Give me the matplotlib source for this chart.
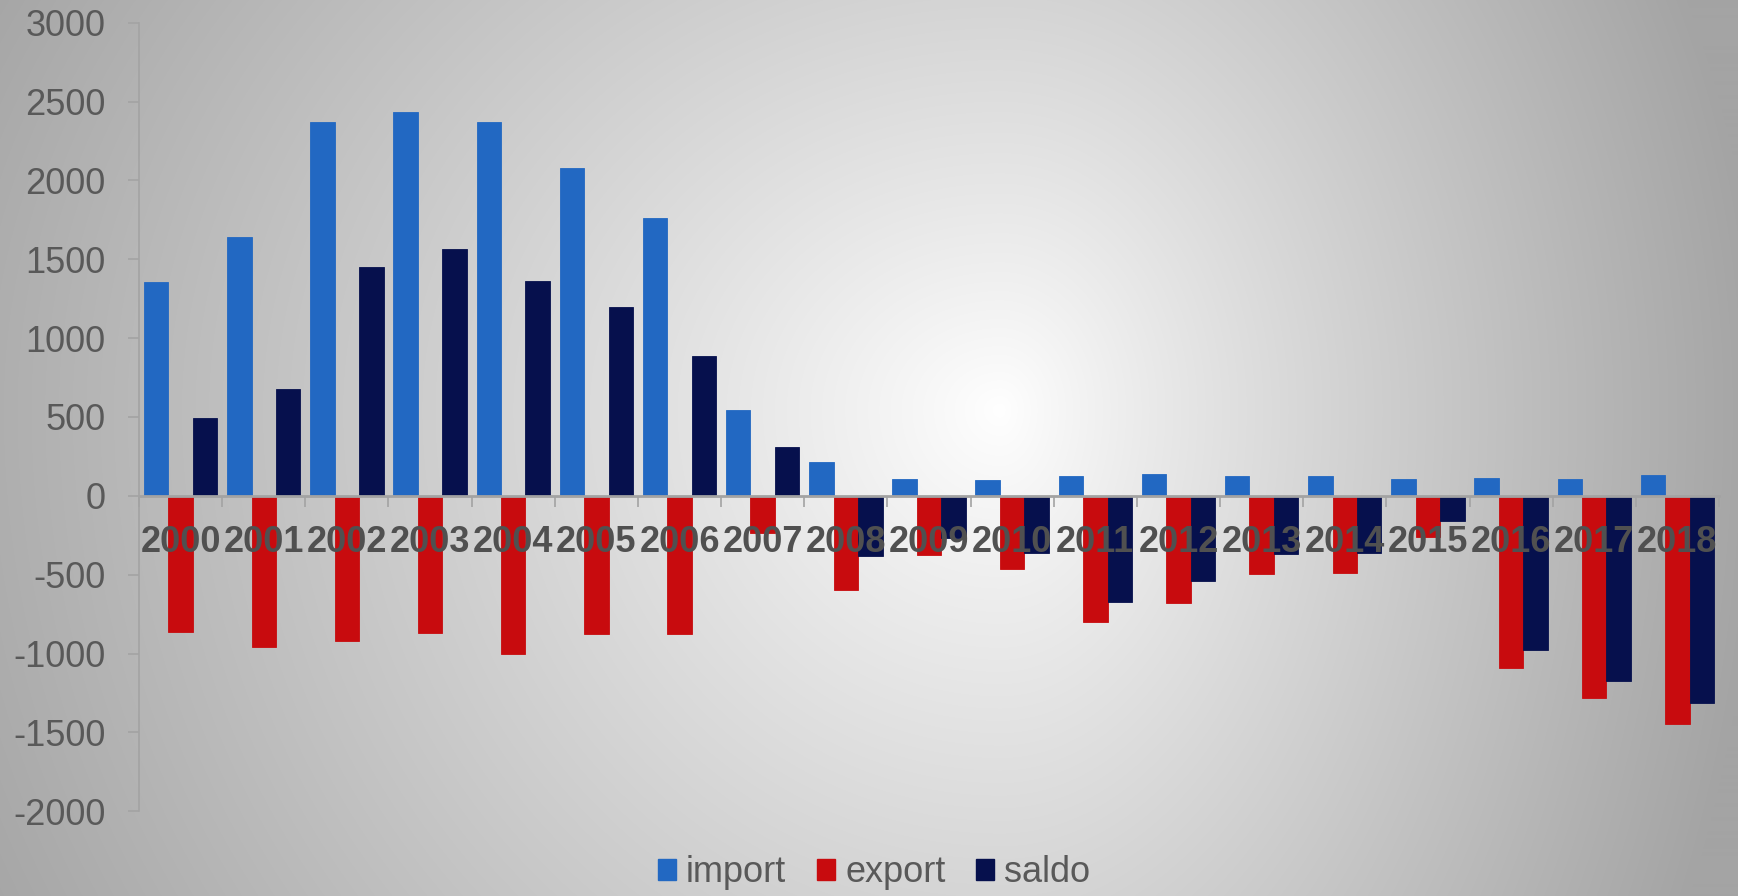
import numpy as np
import matplotlib
matplotlib.use("Agg")
import matplotlib.pyplot as plt
from matplotlib.patches import Patch

years = [str(y) for y in range(2000, 2019)]
imports = [1355, 1640, 2373, 2433, 2371, 2078, 1760, 544, 214, 110, 99, 127, 139, 125, 123, 106, 114, 108, 131]
exports = [-861, -960, -918, -869, -1002, -876, -876, -237, -594, -378, -461, -798, -678, -497, -490, -260, -1093, -1279, -1444]
saldo = [495, 676, 1450, 1564, 1363, 1197, 888, 309, -380, -268, -363, -676, -539, -370, -363, -157, -978, -1173, -1312]
series_names = ["import", "export", "saldo"]
colors = ["#2268C2", "#C80B0E", "#06104D"]
yticks = list(range(-2000, 3001, 500))

W, H = 1738, 896
fig = plt.figure(figsize=(W / 100, H / 100), dpi=100)

# background radial gradient
bg = fig.add_axes([0, 0, 1, 1], zorder=-10)
xx, yy = np.meshgrid(np.arange(W), np.arange(H))
cx, cy = 1000.0, 410.0
ax_l, ax_r, b_t, b_b = 1150.0, 760.0, 950.0, 1150.0
a = np.where(xx < cx, ax_l, ax_r)
b = np.where(yy < cy, b_t, b_b)
t = np.sqrt(((xx - cx) / a) ** 2 + ((yy - cy) / b) ** 2)
t = np.clip(t, 0, 1) ** 0.9
val = (255 - (255 - 164) * t) / 255.0
img = np.dstack([val, val, val])
bg.imshow(img, aspect="auto", extent=[0, 1, 0, 1], origin="upper")
bg.set_axis_off()

ax = fig.add_axes([139 / W, 1 - 811.3 / H, (1719 - 139) / W, (811.3 - 22.7) / H])
ax.set_facecolor("none")
ax.set_axisbelow(False)

x = np.arange(len(years))
bw = 0.294
for i, (vals, c, name) in enumerate(zip([imports, exports, saldo], colors, series_names)):
    ax.bar(x + (i - 1) * bw, vals, width=bw, color=c, label=name, zorder=1,
           edgecolor=c, linewidth=0.6)

ax.set_xlim(-0.5, len(years) - 0.5)
ax.set_ylim(-2000, 3000)
ax.set_yticks(yticks)
ax.set_yticklabels([str(v) for v in yticks])

spine_c = "#A3A3A3"
for s in ["top", "right"]:
    ax.spines[s].set_visible(False)
ax.spines["left"].set_color(spine_c)
ax.spines["left"].set_linewidth(1.2)
ax.spines["bottom"].set_position(("data", 0))
ax.spines["bottom"].set_color(spine_c)
ax.spines["bottom"].set_linewidth(2.0)
ax.spines["bottom"].set_zorder(3)

ax.set_xticks(np.arange(-0.5, len(years), 1.0))
ax.set_xticklabels([])
ax.set_xticks(x, minor=True)
ax.set_xticklabels(years, minor=True, fontsize=26, fontweight="bold",
                   color="#505050", family="Liberation Sans")
ax.tick_params(axis="x", which="major", direction="out", length=8, width=1.2, color=spine_c)
ax.tick_params(axis="x", which="minor", length=0, pad=21)
ax.tick_params(axis="y", direction="out", length=8, width=1.2, color=spine_c,
               labelsize=26, labelcolor="#595959", pad=16)
for lab in ax.get_yticklabels():
    lab.set_family("Liberation Sans")

handles = [Patch(facecolor=c, edgecolor=c, label=n) for c, n in zip(colors, series_names)]
leg = fig.legend(handles=handles, loc="center", bbox_to_anchor=(0.503, 0.026), ncol=3,
                 frameon=False, handlelength=0.5, handleheight=0.55, handletextpad=0.28,
                 columnspacing=0.85, prop={"family": "Liberation Sans", "size": 26})
for txt in leg.get_texts():
    txt.set_color("#595959")

fig.savefig("out.png", dpi=100)
